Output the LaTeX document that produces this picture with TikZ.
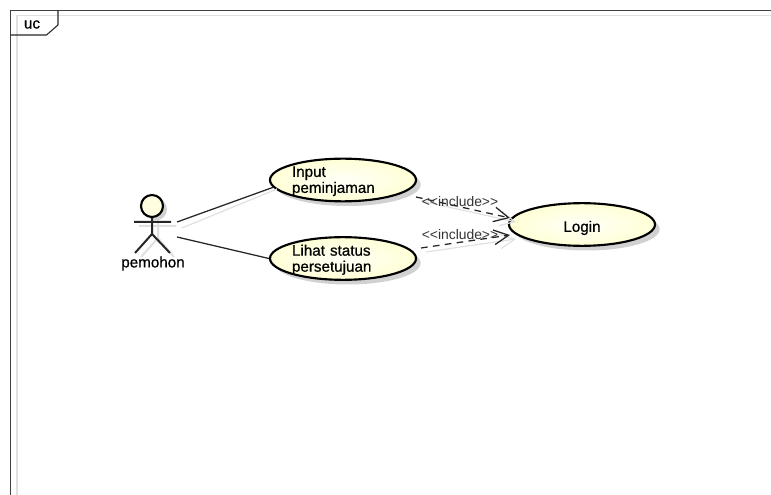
\documentclass[tikz,border=0pt]{standalone}
\usepackage{fontspec}
\setmainfont{Liberation Sans}
\newfontfamily\labelfont[FakeBold=0.7]{Liberation Sans}
\usetikzlibrary{arrows.meta,shapes.geometric,shadows}
\newcommand{\inclabel}{<{}<include>{}>}
\begin{document}
\begin{tikzpicture}[x=0.75pt, y=-0.75pt, line join=round, font=\labelfont\fontsize{11.4}{12}\selectfont,
	ink/.style={draw=black!85, line width=0.95pt},
	faint/.style={draw=black!12, line width=0.9pt},
	usecase/.style={ellipse, draw=black, line width=1.6pt, inner color=yellow!3, outer color=yellow!16,
		minimum width=109.5pt, minimum height=32pt, inner sep=0pt, text width=76.5pt, align=left, text depth=12.5pt,
		general shadow={fill=black!18, shadow xshift=3.5pt, shadow yshift=-3.5pt}},
	include/.style={ink, dash pattern=on 5pt off 4pt, -{Straight Barb[length=11pt,width=11pt]}},
	includeshade/.style={faint, -{Straight Barb[length=11pt,width=11pt]}},
	inctext/.style={font=\normalfont\fontsize{10.4}{12}\selectfont, text=black!80, inner sep=0pt}]
	\useasboundingbox (0,0) rectangle (771,495);
	% frame
	\draw[faint] (771,15.5)--(17,15.5)--(17,495);
	\draw[draw=black!75, line width=0.9pt] (771,10.5)--(10.5,10.5)--(10.5,495);
	\draw[ink, line width=0.8pt] (58,10.5)--(58,25)--(46.5,35)--(10.5,35);
	\node (tab) at (32,24.5) {uc};
	% use cases
	\node[usecase] (input) at (343,180) {Input\\peminjaman};
	\node[usecase] (lihat) at (343,258.5) {Lihat status\\persetujuan};
	\node[usecase, align=center, text height=11pt, text depth=0pt] (login) at (582,224.5) {Login};
	% actor
	\draw[faint, line width=1.5pt] (139,226)--(176,226) (158,212)--(158,238)--(174,257) (158,238)--(141,257);
	\node[circle, draw=black, line width=1.6pt, fill=yellow!12, minimum size=16.5pt, inner sep=0pt,
		general shadow={fill=black!18, shadow xshift=3pt, shadow yshift=-2.5pt}] (head) at (152,206) {};
	\coordinate (armL) at (134,222);
	\coordinate (armR) at (171,222);
	\coordinate (hip) at (152,234);
	\coordinate (footL) at (135,253);
	\coordinate (footR) at (170,253);
	\draw[ink, line width=1.5pt] (head)--(hip) (armL)--(armR) (footL)--(hip)--(footR);
	\node (actor) at (153,263.5) {pemohon};
	% associations
	\coordinate (actorA) at (177,222);
	\coordinate (actorB) at (177,237);
	\coordinate (actorAs) at (182,228);
	\coordinate (inputs) at (277,189);
	\draw[faint] (actorAs)--(inputs);
	\draw[ink] (actorA)--(input.186);
	\draw[ink] (actorB)--(lihat.west);
	% include
	\coordinate (incA) at (416,197);
	\coordinate (incB) at (421,248);
	\coordinate (tipA) at (510,218);
	\coordinate (tipB) at (510,235);
	\coordinate (incAs) at (421,201);
	\coordinate (incBs) at (426,252);
	\coordinate (tipAs) at (516,222);
	\coordinate (tipBs) at (516,239);
	\draw[includeshade] (incAs)--(tipAs);
	\draw[includeshade] (incBs)--(tipBs);
	\draw[include] (incA)--(tipA);
	\draw[include] (incB)--(tipB);
	\node[inctext] (incTextA) at (460,201.5) {\inclabel};
	\node[inctext] (incTextB) at (460,234.5) {\inclabel};
\end{tikzpicture}
\end{document}
